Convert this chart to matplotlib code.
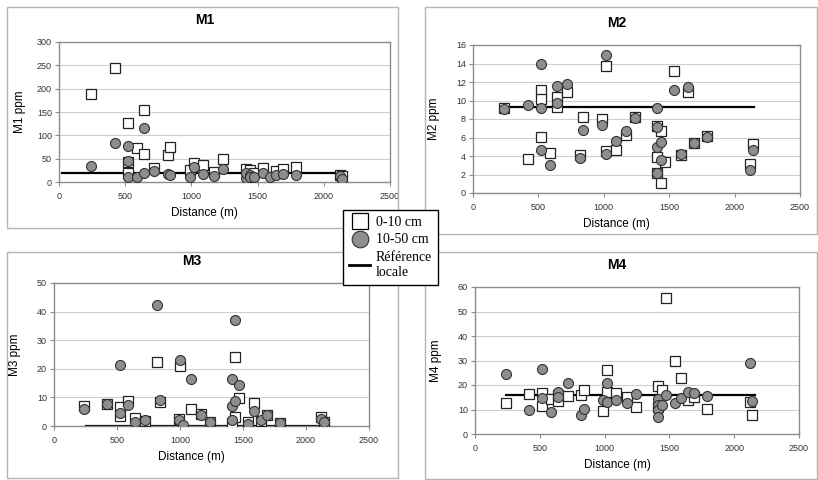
import matplotlib
matplotlib.use('Agg')
import matplotlib.pyplot as plt
from matplotlib.patches import Rectangle
from matplotlib.lines import Line2D

plt.rcParams['font.family'] = ['Liberation Sans', 'DejaVu Sans']

# --- données (distance en m, teneurs en ppm) ---
m1_sq_x = [240, 420, 520, 520, 520, 590, 640, 640, 720, 820, 840, 990, 1020, 1090, 1170, 1240,
           1410, 1440, 1470, 1540, 1640, 1690, 1790, 2120, 2140]
m1_sq_y = [188, 245, 127, 42, 20, 73, 154, 59, 30, 57, 76, 25, 40, 37, 22, 49,
           27, 25, 20, 30, 24, 28, 33, 15, 13]
m1_ci_x = [240, 420, 520, 520, 520, 590, 640, 640, 720, 820, 840, 990, 1020, 1090, 1170, 1240,
           1410, 1410, 1440, 1440, 1470, 1540, 1590, 1640, 1690, 1790, 2120, 2140]
m1_ci_y = [35, 84, 78, 45, 10, 10, 116, 20, 23, 17, 16, 10, 33, 18, 12, 28,
           8, 20, 15, 10, 10, 20, 10, 15, 18, 16, 12, 7]
m1_ref_x = [25, 2150]
m1_ref_y = [20, 20]

m2_sq_x = [240, 420, 520, 520, 520, 590, 640, 640, 720, 820, 840, 990, 1020, 1020, 1090, 1170, 1240,
           1410, 1410, 1410, 1440, 1440, 1470, 1540, 1590, 1640, 1690, 1790, 2120, 2140]
m2_sq_y = [9.2, 3.7, 11.1, 10.2, 6.1, 4.3, 10.4, 9.3, 10.9, 4.1, 8.2, 8.0, 13.7, 4.5, 4.7, 6.3, 8.2,
           7.2, 3.9, 2.2, 6.7, 1.1, 3.3, 13.2, 4.1, 10.9, 5.4, 6.2, 3.1, 5.3]
m2_ci_x = [240, 420, 520, 520, 520, 590, 640, 640, 720, 820, 840, 990, 1020, 1020, 1090, 1170, 1240,
           1410, 1410, 1410, 1410, 1440, 1440, 1540, 1590, 1640, 1690, 1790, 2120, 2140]
m2_ci_y = [9.1, 9.5, 13.9, 9.2, 4.6, 3.0, 11.6, 9.7, 11.8, 3.8, 6.8, 7.4, 14.9, 4.2, 5.6, 6.7, 8.1,
           9.2, 7.1, 5.0, 2.2, 5.5, 3.6, 11.1, 4.2, 11.5, 5.4, 6.1, 2.5, 4.6]
m2_ref_x = [240, 2150]
m2_ref_y = [9.3, 9.3]

m3_sq_x = [240, 420, 520, 520, 590, 640, 720, 820, 840, 990, 1000, 1090, 1170, 1240,
           1410, 1440, 1440, 1470, 1540, 1590, 1640, 1690, 1790, 2120, 2140]
m3_sq_y = [6.9, 7.6, 6.7, 3.5, 8.8, 2.7, 1.7, 22.5, 8.3, 2.6, 21.0, 6.0, 4.1, 1.3,
           1.2, 24.3, 3.3, 9.7, 1.3, 8.0, 1.7, 4.0, 1.0, 3.0, 1.5]
m3_ci_x = [240, 420, 520, 520, 590, 640, 720, 820, 840, 990, 1000, 1020, 1090, 1170, 1240,
           1410, 1410, 1410, 1440, 1440, 1470, 1540, 1590, 1640, 1690, 1790, 2120, 2140]
m3_ci_y = [5.8, 7.8, 21.5, 4.6, 7.3, 1.4, 2.0, 42.4, 9.0, 2.0, 23.0, 0.5, 16.4, 4.0, 1.4,
           16.6, 7.0, 2.0, 37.1, 8.8, 14.5, 0.6, 5.2, 2.0, 3.8, 1.1, 2.5, 1.4]
m3_ref_x = [250, 2150]
m3_ref_y = [0, 0]

m4_sq_x = [240, 420, 520, 520, 590, 640, 640, 720, 820, 840, 990, 1020, 1020, 1090, 1170, 1240,
           1410, 1410, 1440, 1470, 1540, 1590, 1640, 1690, 1790, 2120, 2140]
m4_sq_y = [12.6, 16.2, 16.7, 11.5, 14.2, 13.3, 16.0, 15.7, 16.0, 18.0, 9.2, 26.2, 17.3, 16.7, 15.3, 11.2,
           19.4, 11.0, 18.0, 55.6, 29.7, 23.0, 14.0, 15.3, 10.2, 13.0, 7.7]
m4_ci_x = [240, 420, 520, 520, 590, 640, 640, 720, 820, 840, 990, 1020, 1020, 1090, 1170, 1240,
           1410, 1410, 1410, 1410, 1440, 1470, 1540, 1590, 1640, 1690, 1790, 2120, 2140]
m4_ci_y = [24.5, 9.9, 26.6, 14.6, 8.8, 17.3, 15.3, 21.0, 7.6, 10.2, 14.0, 21.0, 12.9, 14.0, 12.6, 16.3,
           14.4, 11.7, 9.9, 6.8, 12.0, 16.0, 12.6, 14.6, 17.0, 16.7, 15.6, 28.9, 13.3]
m4_ref_x = [240, 2160]
m4_ref_y = [16, 16]

legend_labels = ['0-10 cm', '10-50 cm', 'Référence\nlocale']

W, H = 818, 480
CIRCLE = '#8c8f8a'

fig = plt.figure(figsize=(W / 100, H / 100), dpi=100)


def fx(px):
    return px / W


def fy(py):
    return 1 - py / H


def panel(name, frame, area, ymax, ystep, sq_x, sq_y, ci_x, ci_y, ref_x, ref_y):
    # cadre gris du graphique
    fx0, fy0, fx1, fy1 = frame
    fig.add_artist(Rectangle((fx(fx0), fy(fy1)), (fx1 - fx0) / W, (fy1 - fy0) / H,
                             transform=fig.transFigure, fill=False, ec='#b4b4b4', lw=1))
    x0, y0, x1, y1 = area
    ax = fig.add_axes([fx(x0), fy(y1), (x1 - x0) / W, (y1 - y0) / H])
    ax.plot(ref_x, ref_y, color='black', lw=1.6, zorder=2)
    ax.plot(sq_x, sq_y, ls='none', marker='s', ms=6.5, mfc='white', mec='#222222', mew=0.9, zorder=3)
    ax.plot(ci_x, ci_y, ls='none', marker='o', ms=7.2, mfc=CIRCLE, mec='#333333', mew=0.8, zorder=4)
    ax.set_xlim(0, 2500)
    ax.set_xticks(range(0, 2501, 500))
    ax.set_ylim(0, ymax)
    ax.set_yticks([ystep * i for i in range(int(round(ymax / ystep)) + 1)])
    ax.yaxis.grid(True, color='#cfcfcf', lw=0.8)
    ax.set_axisbelow(True)
    for s in ax.spines.values():
        s.set_color('#8c8c8c')
        s.set_linewidth(1)
    ax.tick_params(labelsize=6.5, colors='#8c8c8c', labelcolor='#333333', length=3, width=0.8, pad=2)
    ax.tick_params(axis='x', pad=4)
    cx = (x0 + x1) / 2
    fig.text(fx(cx - 20), fy(y0 - 22), name, ha='center', va='center', fontsize=10, fontweight='bold')
    fig.text(fx(cx - 20), fy(y1 + 31), 'Distance (m)', ha='center', va='center', fontsize=8.5)
    fig.text(fx(x0 - 39), fy((y0 + y1) / 2), name + ' ppm', ha='center', va='center',
             fontsize=8.5, rotation=90)
    return ax


panel('M1', (7, 7, 398, 228), (59, 42, 390, 182), 300, 50,
      m1_sq_x, m1_sq_y, m1_ci_x, m1_ci_y, m1_ref_x, m1_ref_y)
panel('M2', (425, 7, 817, 234), (473, 45, 800, 193), 16, 2,
      m2_sq_x, m2_sq_y, m2_ci_x, m2_ci_y, m2_ref_x, m2_ref_y)
panel('M3', (7, 252, 398, 478), (54, 283, 369, 426), 50, 10,
      m3_sq_x, m3_sq_y, m3_ci_x, m3_ci_y, m3_ref_x, m3_ref_y)
panel('M4', (425, 252, 817, 479), (475, 287, 799, 434), 60, 10,
      m4_sq_x, m4_sq_y, m4_ci_x, m4_ci_y, m4_ref_x, m4_ref_y)

handles = [
    Line2D([], [], ls='none', marker='s', ms=11, mfc='white', mec='black', mew=0.9),
    Line2D([], [], ls='none', marker='o', ms=12, mfc=CIRCLE, mec='#333333', mew=0.8),
    Line2D([], [], color='black', lw=2),
]
leg = fig.legend(handles, legend_labels, loc='upper left', bbox_to_anchor=(fx(343), fy(210)),
                 frameon=True, fancybox=False, edgecolor='black', framealpha=1,
                 prop={'family': 'Liberation Serif', 'size': 10}, handlelength=1.5,
                 handletextpad=0.4, borderpad=0.45, labelspacing=0.3, borderaxespad=0)
leg.get_frame().set_linewidth(1)

fig.savefig('out.png', dpi=100)
